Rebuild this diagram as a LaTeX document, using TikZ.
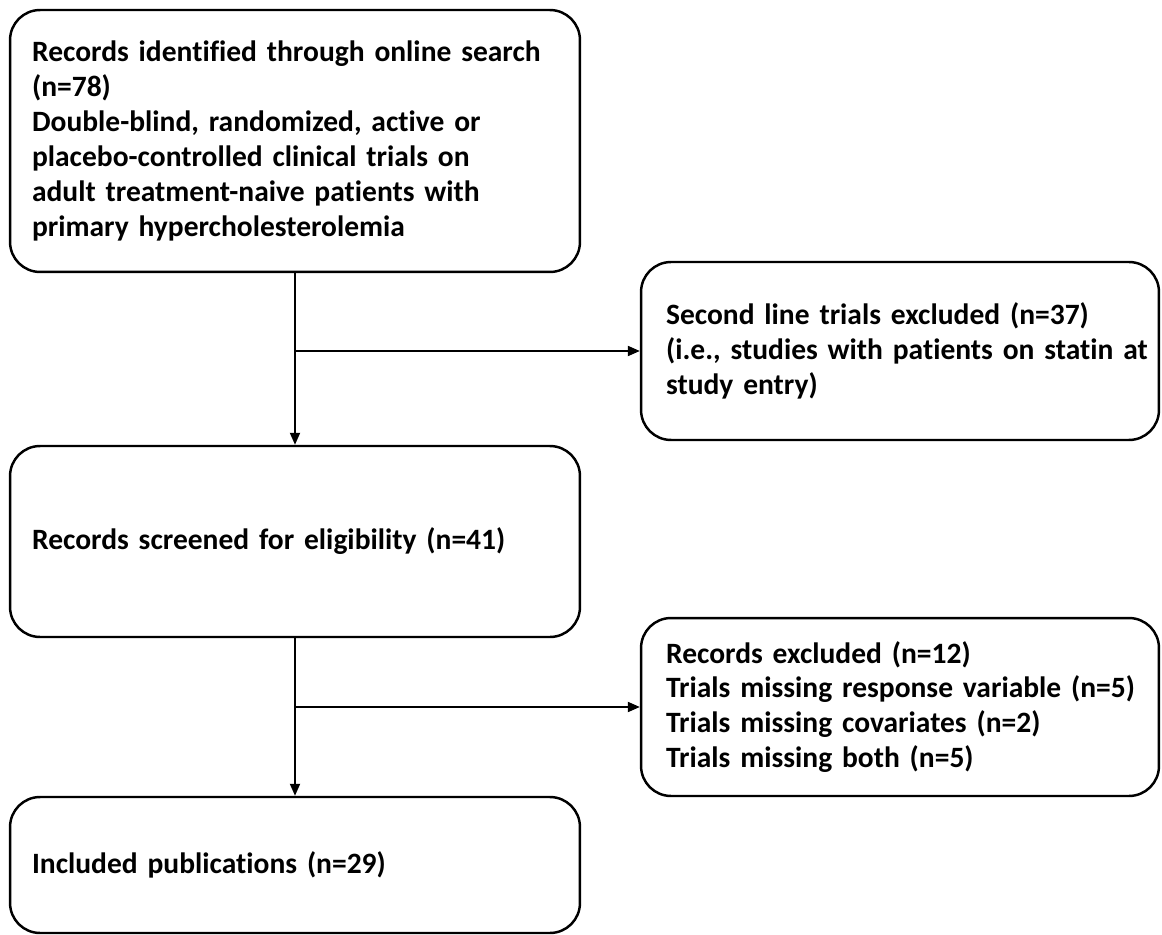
\documentclass[tikz,border=0pt]{standalone}
\usepackage{fontspec}
\setmainfont{Carlito}[Ligatures=CommonOff]
\usetikzlibrary{arrows.meta, positioning}
\tikzset{
  >=Latex,
  box/.style={
    draw=black, fill=white, line width=1.4pt,
    rounded corners=0.6cm, align=left, anchor=center,
    inner xsep=#1, inner ysep=0pt,
    font=\bfseries\fontsize{16.8}{19.9}\selectfont
  },
  box/.default=0.44cm,
  lbox/.style={box, text width=10.52cm, minimum width=11.4cm},
  rbox/.style={box=0.5cm, text width=9.36cm, minimum width=10.36cm},
  arr/.style={-{Triangle[length=2.4mm,width=2mm]}, line width=1.1pt}
}

\begin{document}
\begin{tikzpicture}[x=0.02cm, y=-0.02cm]
  \useasboundingbox (0,0) rectangle (1162,935);
  % left column
  \node[lbox, minimum height=5.24cm] (found) at (295,141)
    {Records identified through online search\\(n=78)\\Double-blind, randomized, active or\\placebo-controlled clinical trials on\\adult treatment-naive patients with\\primary hypercholesterolemia};
  \node[lbox, minimum height=3.82cm] (screen) at (295,541.5)
    {Records screened for eligibility (n=41)};
  \node[lbox, minimum height=2.72cm] (incl) at (295,865)
    {Included publications (n=29)};
  % right column
  \node[rbox, minimum height=3.56cm] (second) at (900,351)
    {Second line trials excluded (n=37)\\\mbox{(i.e., studies with patients on statin at}\\study entry)};
  \node[rbox, minimum height=3.56cm] (excl) at (900,707)
    {Records excluded (n=12)\\\mbox{Trials missing response variable (n=5)}\\Trials missing covariates (n=2)\\Trials missing both (n=5)};
  % connectors
  \coordinate (j1) at (found.south |- second.west);
  \coordinate (j2) at (screen.south |- excl.west);
  \draw[arr] (found.south) -- (screen.north);
  \draw[arr] (j1) -- (second.west);
  \draw[arr] (screen.south) -- (incl.north);
  \draw[arr] (j2) -- (excl.west);
\end{tikzpicture}
\end{document}
